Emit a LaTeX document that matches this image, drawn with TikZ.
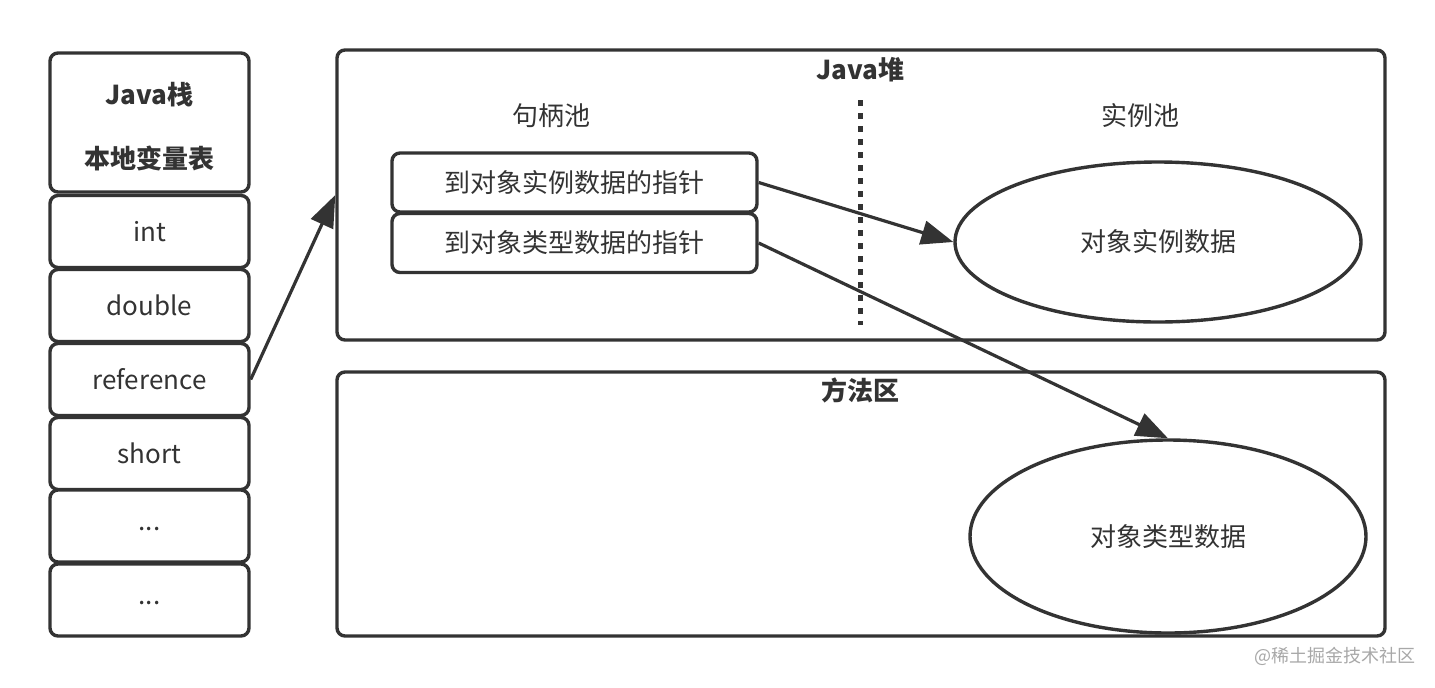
\documentclass[tikz,border=0pt]{standalone}
\usepackage{fontspec}
\setmainfont{Noto Sans CJK SC}
\usetikzlibrary{shapes.geometric,arrows.meta}
\definecolor{ink}{HTML}{333333}
\definecolor{wm}{HTML}{A8A8A8}
\tikzset{
  box/.style={draw=ink,line width=1.7pt,rounded corners=4pt,fill=white,inner sep=0pt,font=\fontsize{13pt}{15pt}\selectfont,text=ink},
  cell/.style={box,minimum width=99.5pt,minimum height=36pt},
  area/.style={box,minimum width=524pt},
  hbox/.style={box,minimum width=182.5pt,minimum height=29.5pt},
  ell/.style={draw=ink,line width=1.7pt,ellipse,inner sep=0pt,font=\fontsize{13pt}{15pt}\selectfont,text=ink},
  lbl/.style={font=\fontsize{13pt}{15pt}\selectfont,text=ink,inner sep=0pt},
  blbl/.style={lbl,font=\fontsize{13pt}{15pt}\selectfont\bfseries},
  arr/.style={draw=ink,line width=1.6pt,-{Triangle[length=16pt,width=12pt]}}
}
\begin{document}
\begin{tikzpicture}[x=0.5pt,y=-0.5pt]
\useasboundingbox[fill=white] (0,0) rectangle (1435,687);
% Java stack
\node[box,minimum width=99.5pt,minimum height=69.5pt,align=center,font=\fontsize{13pt}{15pt}\selectfont\bfseries] (hdr) at (149.5,122.5) {};
\node[blbl] (hdr1) at (149.5,95) {Java栈};
\node[blbl] (hdr2) at (149.5,158) {本地变量表};
\node[cell] (c1) at (149.5,231.5) {int};
\node[cell] (c2) at (149.5,305.5) {double};
\node[cell] (c3) at (149.5,379.5) {reference};
\node[cell] (c4) at (149.5,453.5) {short};
\node[cell] (c5) at (149.5,526) {};
\node[lbl] (c5t) at (149.5,529) {...};
\node[cell] (c6) at (149.5,600) {};
\node[lbl] (c6t) at (149.5,603) {...};
% heap
\node[area,minimum height=145pt] (heap) at (861,195) {};
\node[blbl] (heapt) at (860,70) {Java堆};
\node[lbl] (hp) at (551,116) {句柄池};
\node[lbl] (ip) at (1140,116) {实例池};
\coordinate (d1) at (860,100);
\coordinate (d2) at (860,325);
\draw[ink,line width=2.5pt,dash pattern=on 3pt off 3.5pt] (d1) -- (d2);
\node[hbox] (h1) at (574.5,182.5) {到对象实例数据的指针};
\node[hbox] (h2) at (574.5,243) {到对象类型数据的指针};
\node[ell,minimum width=203pt,minimum height=80pt] (e1) at (1158,242) {对象实例数据};
% method area
\node[area,minimum height=132pt] (meth) at (861,504) {};
\node[blbl] (metht) at (860,390) {方法区};
\node[ell,minimum width=198pt,minimum height=96.5pt] (e2) at (1168,536.5) {对象类型数据};
% arrows
\draw[arr] (c3.east) -- (heap.west);
\draw[arr] (h1.east) -- (e1.west);
\draw[arr] (h2.east) -- (e2.north);
% watermark
\node[font=\fontsize{9pt}{11pt}\selectfont,text=wm,inner sep=0pt] (wmk) at (1335,656) {@稀土掘金技术社区};
\end{tikzpicture}
\end{document}
